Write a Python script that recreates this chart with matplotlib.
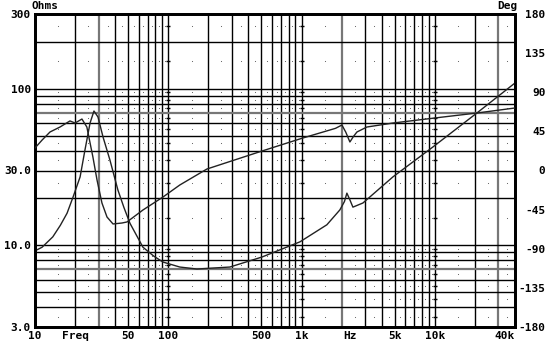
import numpy as np
import matplotlib.pyplot as plt

# impedance curve (Ohms, left axis)
imp_freq = [10, 11.3, 13.6, 15.5, 17.4, 19.3, 21.8, 23.7, 25.9, 27.7, 29.7, 32.4, 36.5, 41.9,
            46.5, 51.6, 64.6, 78, 91.3, 122, 164, 290, 505, 973, 1550, 1940, 2100, 2190,
            2300, 2430, 2890, 4850, 9680, 20700, 40000]
imp_ohms = [9.2, 9.7, 11.3, 13.4, 16.0, 20.3, 27.3, 40.5, 60.4, 72, 65.9, 49.1, 35, 22.5,
            17.4, 13.8, 9.7, 8.5, 7.8, 7.25, 7.04, 7.25, 8.4, 10.5, 13.5, 16.8, 19.0, 21.5,
            19.6, 17.5, 18.6, 27.3, 42.4, 69.9, 108.7]

# phase curve (Deg, right axis)
ph_freq = [10, 11.3, 12.96, 15.4, 18.3, 20, 22.5, 24.5, 27.2, 29.2, 31.8, 34.7, 38.5, 44.9,
           49, 64.6, 91.3, 122, 195, 505, 1024, 1800, 2010, 2150, 2307, 2450, 2606, 3093,
           4850, 11500, 20700, 40000]
ph_deg = [25.9, 35, 44.3, 50, 57, 54.6, 59.2, 50, 15.5, -10.9, -37.4, -53.5, -61.5, -60.4,
          -59.2, -45.4, -30.5, -16.7, 1.7, 22.4, 37.4, 48.5, 52.3, 44, 32.8, 39, 44.3, 50,
          54.6, 61.5, 66.1, 71.9]

ohm_ticks = [3, 10, 30, 100, 300]
ohm_labels = ['3.0', '10.0', '30.0', '100', '300']
deg_ticks = [-180, -135, -90, -45, 0, 45, 90, 135, 180]
freq_ticks = [10, 20, 50, 100, 500, 1000, 2300, 5000, 10000, 40000]
freq_labels = ['10', 'Freq', '50', '100', '500', '1k', 'Hz', '5k', '10k', '40k']

font = {'family': 'DejaVu Sans Mono', 'weight': 'bold', 'size': 8}

fig = plt.figure(figsize=(5.5, 3.55), dpi=100)
ax = fig.add_axes([35 / 550, 1 - 327 / 355, 480 / 550, 313 / 355])
ax.set_xscale('log')
ax.set_yscale('log')
ax.set_xlim(10, 40000)
ax.set_ylim(3, 300)

# grid lines
vlines = [m * 10 ** d for d in range(1, 5) for m in range(1, 10) if m * 10 ** d <= 40000]
hlines = [m * 10 ** d for d in range(0, 3) for m in range(1, 10) if 3 <= m * 10 ** d <= 300]
gray_v = [30, 2000, 30000]
gray_h = [7, 70]
for v in vlines:
    if v in gray_v:
        ax.axvline(v, color='#777777', lw=1.6, zorder=1)
    else:
        ax.axvline(v, color='black', lw=1.0, zorder=1)
for h in hlines:
    if h in gray_h:
        ax.axhline(h, color='#777777', lw=1.6, zorder=1)
    else:
        ax.axhline(h, color='black', lw=1.0, zorder=1)

# dots at mid-grid positions
xd = [m * 10 ** d + 10 ** d / 2 for d in range(1, 5) for m in range(1, 10) if m * 10 ** d + 10 ** d / 2 < 40000]
yd = [m * 10 ** d + 10 ** d / 2 for d in range(0, 3) for m in range(1, 10) if 3 < m * 10 ** d + 10 ** d / 2 < 300]
X, Y = np.meshgrid(xd, yd)
ax.scatter(X.ravel(), Y.ravel(), s=0.6, color='#555555', zorder=1, linewidths=0)
for v in [100, 1000, 10000]:
    ax.scatter([v] * len(yd), yd, marker='_', s=12, color='black', lw=1, zorder=1)

ax.plot(imp_freq, imp_ohms, color='#222222', lw=1.0, zorder=3)

ax.set_yticks(ohm_ticks)
ax.set_yticklabels(ohm_labels, fontdict=font)
ax.yaxis.set_minor_locator(plt.NullLocator())
ax.set_xticks(freq_ticks)
ax.set_xticklabels(freq_labels, fontdict=font)
ax.xaxis.set_minor_locator(plt.NullLocator())
ax.get_xticklabels()[-1].set_horizontalalignment('right')
ax.tick_params(length=0, pad=3)
for s in ax.spines.values():
    s.set_linewidth(2)

ax2 = ax.twinx()
ax2.set_ylim(-180, 180)
ax2.plot(ph_freq, ph_deg, color='#222222', lw=1.0, zorder=3)
ax2.set_yticks(deg_ticks)
ax2.set_yticklabels([str(t) for t in deg_ticks], fontdict=font)
for lab in ax2.get_yticklabels():
    lab.set_horizontalalignment('right')
ax2.tick_params(length=0, pad=22)
for s in ax2.spines.values():
    s.set_linewidth(2)

fig.text(31 / 550, 1 - 6 / 355, 'Ohms', ha='left', va='center', **font)
fig.text(518 / 550, 1 - 6 / 355, 'Deg', ha='right', va='center', **font)

fig.savefig('out.png', dpi=100, facecolor='white')
